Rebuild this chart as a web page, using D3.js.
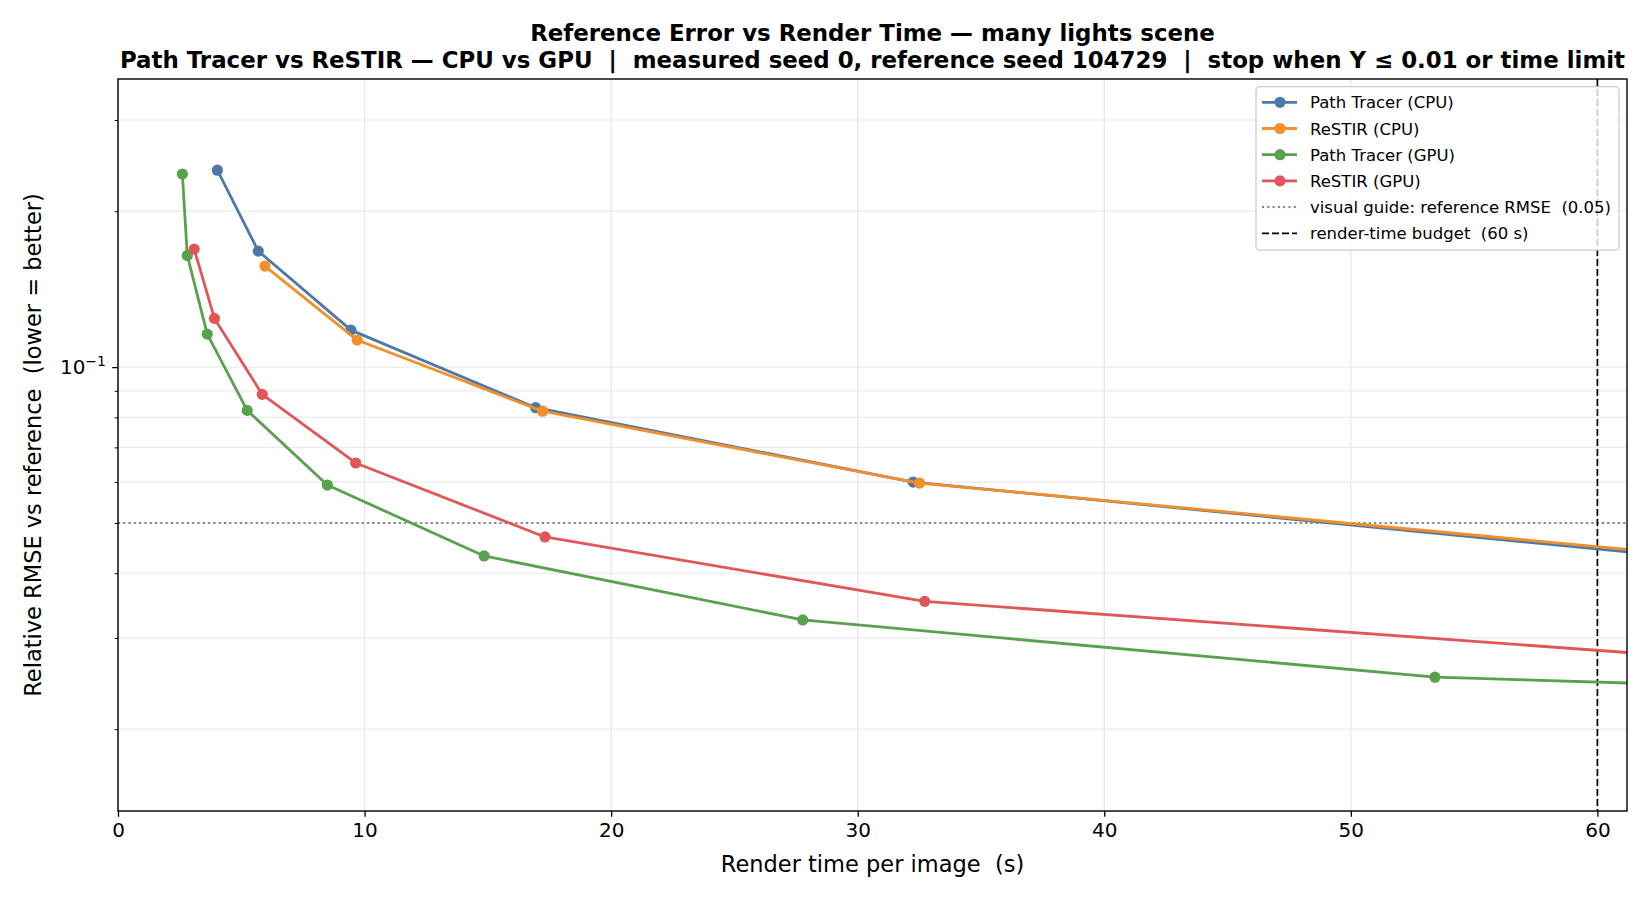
<!DOCTYPE html>
<html>
<head>
<meta charset="utf-8">
<script src="https://cdn.jsdelivr.net/npm/d3@7"></script>
<style>
  body { margin: 0; background: #fff; }
  text { font-family: "DejaVu Sans", sans-serif; fill: #000; white-space: pre; }
</style>
</head>
<body>
<svg id="chart" width="1650" height="900"></svg>
<script>
// data
var seriesNames = ["Path Tracer (CPU)", "ReSTIR (CPU)", "Path Tracer (GPU)", "ReSTIR (GPU)"];
var seriesColors = ["#4e79a7", "#f28e2b", "#59a14f", "#e15759"];

var ptCpuTime = [4.03, 5.69, 9.45, 16.94, 32.25, 63.5];
var ptCpuRmse = [0.240, 0.1675, 0.1179, 0.0835, 0.0600, 0.0429];

var rsCpuTime = [5.96, 9.70, 17.22, 32.51, 64.0];
var rsCpuRmse = [0.1567, 0.1128, 0.0822, 0.0597, 0.0432];

var ptGpuTime = [2.61, 2.81, 3.62, 5.24, 8.49, 14.85, 27.77, 53.41, 104.0];
var ptGpuRmse = [0.236, 0.1643, 0.1158, 0.0825, 0.0592, 0.0432, 0.0325, 0.0252, 0.0213];

var rsGpuTime = [3.09, 3.91, 5.85, 9.64, 17.32, 32.72, 64.0];
var rsGpuRmse = [0.169, 0.1242, 0.0886, 0.0653, 0.0470, 0.0353, 0.0275];

var refRmse = 0.05;
var timeBudget = 60;
var xTicks = [0, 10, 20, 30, 40, 50, 60];
var yMinorTicks = [0.02, 0.03, 0.04, 0.05, 0.06, 0.07, 0.08, 0.09, 0.2, 0.3];

var titleLine1 = "Reference Error vs Render Time \u2014 many lights scene";
var titleLine2 = "Path Tracer vs ReSTIR \u2014 CPU vs GPU  |  measured seed 0, reference seed 104729  |  stop when Y \u2264 0.01 or time limit";

var allTimes = [ptCpuTime, rsCpuTime, ptGpuTime, rsGpuTime];
var allRmse = [ptCpuRmse, rsCpuRmse, ptGpuRmse, rsGpuRmse];

(function() {
  var mLeft = 118, mRight = 1627, mTop = 79, mBottom = 811;

  var svg = d3.select("#chart");

  var x = d3.scaleLinear().domain([0, 61.2]).range([mLeft, mRight]);
  var y = d3.scaleLog().domain([0.0139, 0.36]).range([mBottom, mTop]);

  // grid
  var grid = svg.append("g").attr("class", "grid");
  grid.selectAll(".gx").data(xTicks).enter().append("line")
    .attr("x1", function(d) { return x(d); }).attr("x2", function(d) { return x(d); })
    .attr("y1", mTop).attr("y2", mBottom)
    .attr("stroke", "#e6e6e6").attr("stroke-width", 1.2);
  grid.selectAll(".gy").data(yMinorTicks.concat([0.1])).enter().append("line")
    .attr("x1", mLeft).attr("x2", mRight)
    .attr("y1", function(d) { return y(d); }).attr("y2", function(d) { return y(d); })
    .attr("stroke", "#ebebeb").attr("stroke-width", 1.2);

  svg.append("clipPath").attr("id", "plotclip")
    .append("rect").attr("x", mLeft).attr("y", mTop).attr("width", mRight - mLeft).attr("height", mBottom - mTop);

  var plot = svg.append("g").attr("clip-path", "url(#plotclip)");

  // reference guide + budget
  plot.append("line")
    .attr("x1", mLeft).attr("x2", mRight)
    .attr("y1", y(refRmse)).attr("y2", y(refRmse))
    .attr("stroke", "#808080").attr("stroke-width", 2)
    .attr("stroke-dasharray", "2,3.3");
  plot.append("line")
    .attr("x1", x(timeBudget)).attr("x2", x(timeBudget))
    .attr("y1", mTop).attr("y2", mBottom)
    .attr("stroke", "#000").attr("stroke-width", 1.7)
    .attr("stroke-dasharray", "7,3");

  var line = d3.line()
    .x(function(d) { return x(d[0]); })
    .y(function(d) { return y(d[1]); });

  for (var s = 0; s < seriesNames.length; s++) {
    var pts = d3.zip(allTimes[s], allRmse[s]);
    plot.append("path")
      .datum(pts)
      .attr("d", line)
      .attr("fill", "none")
      .attr("stroke", seriesColors[s])
      .attr("stroke-width", 2.8)
      .attr("stroke-linejoin", "round");
    plot.selectAll(".m" + s).data(pts).enter().append("circle")
      .attr("cx", function(d) { return x(d[0]); })
      .attr("cy", function(d) { return y(d[1]); })
      .attr("r", 5.6)
      .attr("fill", seriesColors[s]);
  }

  // axes
  var xAxis = svg.append("g").attr("transform", "translate(0," + mBottom + ")")
    .call(d3.axisBottom(x).tickValues(xTicks).tickSize(5.8).tickPadding(5.8).tickFormat(d3.format("d")));
  xAxis.select(".domain").remove();
  xAxis.selectAll("line").attr("stroke", "#000").attr("stroke-width", 1.3);
  xAxis.selectAll("text").attr("font-size", "20px").attr("font-family", "DejaVu Sans").attr("fill", "#000");

  var yAxis = svg.append("g").attr("transform", "translate(" + mLeft + ",0)")
    .call(d3.axisLeft(y).tickValues([0.1]).tickSize(5.8).tickFormat(""));
  yAxis.select(".domain").remove();
  yAxis.selectAll("line").attr("stroke", "#000").attr("stroke-width", 1.3);

  var yMinor = svg.append("g").attr("transform", "translate(" + mLeft + ",0)")
    .call(d3.axisLeft(y).tickValues(yMinorTicks).tickSize(3.3).tickFormat(""));
  yMinor.select(".domain").remove();
  yMinor.selectAll("line").attr("stroke", "#000").attr("stroke-width", 1);

  var lab = svg.append("text")
    .attr("x", mLeft - 12).attr("y", y(0.1) + 7)
    .attr("text-anchor", "end").attr("font-size", "20px");
  lab.append("tspan").text("10");
  lab.append("tspan").attr("dy", -8).attr("font-size", "14px").text("\u22121");

  svg.append("rect")
    .attr("x", mLeft).attr("y", mTop).attr("width", mRight - mLeft).attr("height", mBottom - mTop)
    .attr("fill", "none").attr("stroke", "#000").attr("stroke-width", 1.4);

  // labels
  svg.append("text")
    .attr("x", (mLeft + mRight) / 2).attr("y", 872)
    .attr("text-anchor", "middle").attr("font-size", "22.5px")
    .text("Render time per image  (s)");
  svg.append("text")
    .attr("transform", "translate(41," + ((mTop + mBottom) / 2) + ") rotate(-90)")
    .attr("text-anchor", "middle").attr("font-size", "22.5px")
    .text("Relative RMSE vs reference  (lower = better)");

  svg.append("text")
    .attr("x", (mLeft + mRight) / 2).attr("y", 41)
    .attr("text-anchor", "middle").attr("font-size", "22.9px").attr("font-weight", "bold")
    .text(titleLine1);
  svg.append("text")
    .attr("x", (mLeft + mRight) / 2).attr("y", 68)
    .attr("text-anchor", "middle").attr("font-size", "22.9px").attr("font-weight", "bold")
    .text(titleLine2);

  // legend
  var lg = svg.append("g");
  lg.append("rect")
    .attr("x", 1256).attr("y", 86.7).attr("width", 363).attr("height", 163.5)
    .attr("rx", 4).attr("fill", "#fff").attr("fill-opacity", 0.8)
    .attr("stroke", "#cccccc").attr("stroke-width", 1.3);

  var legendItems = seriesNames.map(function(n, i) { return {name: n, color: seriesColors[i], kind: "series"}; });
  legendItems.push({name: "visual guide: reference RMSE  (0.05)", color: "#808080", kind: "dot"});
  legendItems.push({name: "render-time budget  (60 s)", color: "#000", kind: "dash"});

  legendItems.forEach(function(it, i) {
    var cy = 102.3 + i * 26.2;
    var l = lg.append("line")
      .attr("x1", 1262).attr("x2", 1297).attr("y1", cy).attr("y2", cy)
      .attr("stroke", it.color);
    if (it.kind === "series") {
      l.attr("stroke-width", 2.8);
      lg.append("circle").attr("cx", 1280).attr("cy", cy).attr("r", 5.6).attr("fill", it.color);
    } else if (it.kind === "dot") {
      l.attr("stroke-width", 2).attr("stroke-dasharray", "2,3.3");
    } else {
      l.attr("stroke-width", 1.7).attr("stroke-dasharray", "7,3");
    }
    lg.append("text").attr("x", 1310).attr("y", cy + 6)
      .attr("font-size", "16.5px").text(it.name);
  });
})();
</script>
</body>
</html>
